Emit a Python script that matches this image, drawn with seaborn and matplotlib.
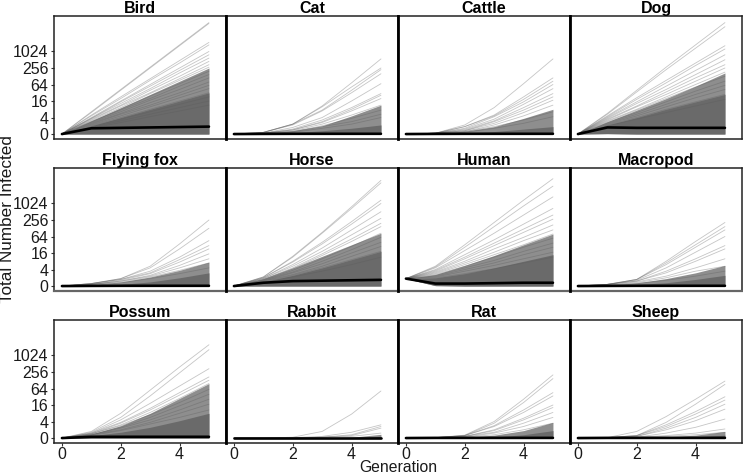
import pandas as pd
import matplotlib
matplotlib.use('Agg')
import matplotlib.pyplot as plt
import seaborn as sns

sns.set_theme(style='white')
plt.rcParams['font.family'] = ['Liberation Sans', 'DejaVu Sans']

# values are log2(total number infected)
generations = [0, 1, 2, 3, 4, 5]
animals = ['Bird', 'Cat', 'Cattle', 'Dog', 'Flying fox', 'Horse',
           'Human', 'Macropod', 'Possum', 'Rabbit', 'Rat', 'Sheep']
y_ticks = [0, 2, 4, 6, 8, 10]
y_labels = ['0', '4', '16', '64', '256', '1024']
x_ticks = [0, 2, 4]

bird_runs = [
    [0, 2.7, 5.4, 8.1, 10.8, 13.5], [0, 2.6, 5.3, 8.0, 10.7, 13.4], [0, 2.3, 4.5, 6.7, 8.9, 11.1],
    [0, 2.2, 4.3, 6.5, 8.6, 10.8], [0, 2.0, 4.0, 6.0, 8.0, 10.0], [0, 1.9, 3.9, 5.8, 7.7, 9.6],
    [0, 1.9, 3.7, 5.5, 7.4, 9.2], [0, 1.8, 3.5, 5.3, 7.0, 8.8], [0, 1.7, 3.4, 5.0, 6.7, 8.4],
    [0, 1.6, 3.2, 4.9, 6.5, 8.1], [0, 1.5, 3.0, 4.6, 6.1, 7.6], [0, 1.5, 2.9, 4.3, 5.8, 7.2],
    [0, 1.4, 2.7, 4.1, 5.4, 6.8], [0, 1.3, 2.5, 3.8, 5.0, 6.3], [0, 1.2, 2.4, 3.5, 4.7, 5.9],
    [0, 1.1, 2.2, 3.3, 4.4, 5.5], [0, 1.0, 2.0, 3.0, 4.0, 5.0], [0, 0.9, 1.8, 2.7, 3.6, 4.5],
    [0, 0.8, 1.6, 2.4, 3.2, 4.0], [0, 0.7, 1.4, 2.1, 2.8, 3.5],
]
cat_runs = [
    [0, 0.2, 1.2, 3.4, 6.2, 9.1], [0, 0.2, 1.2, 3.3, 5.7, 8.0], [0, 0.2, 1.2, 2.9, 5.3, 7.8],
    [0, 0.2, 1.1, 2.8, 5.0, 7.3], [0, 0.1, 0.8, 2.0, 4.0, 6.1], [0, 0.1, 0.6, 1.7, 3.2, 4.9],
    [0, 0.1, 0.5, 1.5, 3.0, 4.7], [0, 0.1, 0.5, 1.4, 2.8, 4.3], [0, 0.1, 0.4, 1.2, 2.3, 3.5],
    [0, 0.1, 0.3, 1.0, 1.9, 2.9], [0, 0.1, 0.3, 0.9, 1.5, 2.4], [0, 0.1, 0.2, 0.7, 1.2, 2.0],
]
cattle_runs = [
    [0, 0.1, 1.1, 3.2, 6.1, 9.1], [0, 0.1, 0.9, 2.3, 4.5, 6.8], [0, 0.1, 0.9, 2.2, 4.2, 6.4],
    [0, 0.1, 0.7, 2.1, 3.9, 6.0], [0, 0.1, 0.6, 1.8, 3.6, 5.5], [0, 0.1, 0.5, 1.6, 3.2, 4.9],
    [0, 0.1, 0.4, 1.5, 2.9, 4.5], [0, 0.1, 0.4, 1.3, 2.6, 4.1], [0, 0.1, 0.3, 1.1, 2.2, 3.5],
    [0, 0.1, 0.3, 0.9, 1.7, 2.7], [0, 0.1, 0.2, 0.7, 1.3, 2.1],
]
dog_runs = [
    [0, 2.5, 5.3, 8.1, 10.8, 13.5], [0, 2.4, 5.1, 7.8, 10.4, 13.0], [0, 2.2, 4.4, 6.5, 8.6, 10.7],
    [0, 2.1, 4.2, 6.2, 8.3, 10.3], [0, 2.0, 3.9, 5.8, 7.7, 9.6], [0, 1.9, 3.7, 5.4, 7.2, 9.0],
    [0, 1.8, 3.4, 5.1, 6.8, 8.4], [0, 1.7, 3.3, 4.8, 6.4, 8.0], [0, 1.6, 3.0, 4.5, 6.0, 7.5],
    [0, 1.5, 2.9, 4.3, 5.7, 7.0], [0, 1.4, 2.6, 3.9, 5.2, 6.4], [0, 1.3, 2.4, 3.6, 4.8, 5.9],
    [0, 1.2, 2.2, 3.3, 4.4, 5.4], [0, 1.1, 2.0, 3.0, 3.9, 4.8], [0, 1.0, 1.8, 2.6, 3.4, 4.2],
]
flying_fox_runs = [
    [0, 0.3, 0.9, 2.4, 5.1, 8.0], [0, 0.3, 0.9, 2.2, 4.5, 7.0], [0, 0.3, 0.8, 1.8, 3.5, 5.5],
    [0, 0.3, 0.8, 1.6, 3.2, 4.9], [0, 0.2, 0.7, 1.5, 2.9, 4.5], [0, 0.2, 0.6, 1.3, 2.5, 3.9],
    [0, 0.2, 0.6, 1.2, 2.2, 3.3], [0, 0.2, 0.5, 1.1, 1.9, 2.8], [0, 0.2, 0.4, 0.9, 1.5, 2.2],
]
horse_runs = [
    [0, 1.1, 3.6, 6.5, 9.6, 12.8], [0, 1.1, 3.5, 6.4, 9.4, 12.5], [0, 1.0, 3.0, 5.3, 7.8, 10.4],
    [0, 1.0, 2.9, 5.1, 7.5, 10.0], [0, 0.9, 2.6, 4.6, 6.8, 9.0], [0, 0.9, 2.4, 4.2, 6.2, 8.2],
    [0, 0.8, 2.2, 3.9, 5.7, 7.6], [0, 0.8, 2.1, 3.7, 5.4, 7.2], [0, 0.7, 1.9, 3.3, 4.8, 6.4],
    [0, 0.7, 1.7, 3.0, 4.4, 5.9], [0, 0.6, 1.6, 2.7, 4.0, 5.3], [0, 0.6, 1.4, 2.4, 3.6, 4.8],
    [0, 0.5, 1.3, 2.2, 3.2, 4.2], [0, 0.5, 1.1, 1.8, 2.6, 3.5],
]
human_runs = [
    [0.9, 2.4, 5.0, 7.7, 10.4, 13.0], [0.9, 2.3, 4.7, 7.2, 9.7, 12.1], [0.9, 2.2, 4.3, 6.4, 8.6, 10.8],
    [0.9, 2.0, 3.8, 5.6, 7.5, 9.4], [0.9, 1.9, 3.5, 5.2, 6.9, 8.6], [0.9, 1.8, 3.3, 4.9, 6.5, 8.1],
    [0.9, 1.7, 3.0, 4.5, 5.9, 7.4], [0.9, 1.6, 2.8, 4.1, 5.5, 6.8], [0.9, 1.5, 2.6, 3.8, 5.0, 6.3],
    [0.9, 1.4, 2.4, 3.5, 4.7, 5.8], [0.9, 1.3, 2.2, 3.1, 4.2, 5.2], [0.9, 1.2, 2.0, 2.8, 3.8, 4.7],
    [0.9, 1.1, 1.8, 2.5, 3.3, 4.1], [0.9, 1.0, 1.5, 2.1, 2.8, 3.5],
]
macropod_runs = [
    [0, 0.2, 0.8, 3.0, 5.4, 7.7], [0, 0.2, 0.8, 2.8, 5.0, 7.2], [0, 0.2, 0.8, 2.6, 4.7, 6.8],
    [0, 0.2, 0.7, 2.2, 4.1, 6.0], [0, 0.2, 0.6, 1.8, 3.3, 4.9], [0, 0.2, 0.6, 1.6, 3.0, 4.5],
    [0, 0.1, 0.5, 1.2, 2.2, 3.3], [0, 0.1, 0.4, 1.0, 1.8, 2.4], [0, 0.1, 0.3, 0.7, 1.2, 1.8],
]
possum_runs = [
    [0, 0.8, 3.0, 5.8, 8.6, 11.3], [0, 0.7, 2.5, 5.1, 7.9, 10.7], [0, 0.6, 2.2, 4.2, 6.3, 8.4],
    [0, 0.6, 1.9, 3.6, 5.5, 7.4], [0, 0.5, 1.8, 3.4, 5.2, 7.0], [0, 0.5, 1.6, 3.1, 4.8, 6.6],
    [0, 0.5, 1.5, 2.8, 4.3, 5.9], [0, 0.4, 1.3, 2.5, 3.9, 5.3], [0, 0.4, 1.2, 2.2, 3.4, 4.7],
    [0, 0.4, 1.0, 1.9, 3.0, 4.1], [0, 0.3, 0.9, 1.7, 2.5, 3.4],
]
rabbit_runs = [
    [0, 0, 0.1, 0.8, 2.9, 5.7], [0, 0, 0.05, 0.2, 0.7, 1.6], [0, 0, 0.05, 0.1, 0.4, 1.4],
    [0, 0, 0, 0.1, 0.3, 1.2], [0, 0, 0, 0.1, 0.2, 0.6],
]
rat_runs = [
    [0, 0.05, 0.35, 2.0, 4.7, 7.65], [0, 0.05, 0.3, 1.8, 4.3, 7.2], [0, 0.05, 0.3, 1.5, 3.4, 5.5],
    [0, 0.05, 0.3, 1.4, 3.1, 5.1], [0, 0.05, 0.2, 1.0, 2.4, 4.0], [0, 0.05, 0.2, 0.9, 2.2, 3.7],
    [0, 0.05, 0.2, 0.7, 1.8, 3.1], [0, 0.05, 0.1, 0.6, 1.4, 2.5], [0, 0.05, 0.1, 0.4, 1.0, 1.8],
]
sheep_runs = [
    [0, 0.05, 0.8, 2.6, 4.7, 6.9], [0, 0.05, 0.3, 1.9, 4.1, 6.5], [0, 0.05, 0.3, 1.6, 3.2, 5.0],
    [0, 0.05, 0.3, 1.4, 2.9, 4.6], [0, 0.05, 0.2, 1.2, 2.5, 4.1], [0, 0.05, 0.2, 1.0, 2.1, 3.5],
    [0, 0.05, 0.1, 0.6, 1.3, 2.3], [0, 0.05, 0.1, 0.3, 0.6, 1.1], [0, 0.05, 0.05, 0.2, 0.4, 0.7],
]
all_runs = [bird_runs, cat_runs, cattle_runs, dog_runs, flying_fox_runs, horse_runs,
            human_runs, macropod_runs, possum_runs, rabbit_runs, rat_runs, sheep_runs]

# mean run of each host, the thick black line
mean_runs = [
    [0, 0.7, 0.75, 0.8, 0.85, 0.9], [0, 0.02, 0.03, 0.03, 0.03, 0.03], [0, 0.02, 0.03, 0.03, 0.03, 0.03],
    [0, 0.8, 0.75, 0.75, 0.75, 0.75], [0, 0.02, 0.03, 0.03, 0.03, 0.03], [0, 0.4, 0.6, 0.65, 0.7, 0.75],
    [0.9, 0.3, 0.3, 0.35, 0.4, 0.4], [0, 0.02, 0.03, 0.03, 0.03, 0.03], [0, 0.15, 0.15, 0.15, 0.15, 0.15],
    [0, 0, 0, 0, 0, 0], [0, 0.02, 0.02, 0.02, 0.02, 0.02], [0, 0.02, 0.02, 0.02, 0.02, 0.02],
]

# upper edge of the lighter haze of runs and of the solid grey core under it
haze_tops = [
    [0, 1.6, 3.2, 4.8, 6.4, 8.0], [0, 0.1, 0.4, 1.0, 2.2, 3.5], [0, 0.1, 0.35, 0.9, 1.9, 3.0],
    [0, 1.5, 2.9, 4.3, 5.8, 7.4], [0, 0.2, 0.5, 1.1, 1.9, 2.9], [0, 0.9, 2.2, 3.6, 5.0, 6.4],
    [0.9, 1.4, 2.5, 3.7, 5.0, 6.3], [0, 0.1, 0.4, 0.9, 1.6, 2.5], [0, 0.5, 1.5, 3.0, 4.8, 6.6],
    [0, 0, 0, 0.03, 0.1, 0.45], [0, 0.03, 0.1, 0.35, 0.9, 1.9], [0, 0.02, 0.05, 0.15, 0.35, 0.8],
]
core_tops = [
    [0, 1.0, 2.0, 3.0, 4.0, 5.0], [0, 0.05, 0.15, 0.4, 0.7, 1.1], [0, 0.05, 0.12, 0.3, 0.6, 0.9],
    [0, 1.1, 2.0, 3.0, 3.9, 4.8], [0, 0.08, 0.2, 0.5, 1.0, 1.6], [0, 0.5, 1.3, 2.2, 3.2, 4.2],
    [0.9, 1.0, 1.5, 2.2, 3.0, 3.8], [0, 0.05, 0.2, 0.4, 0.8, 1.3], [0, 0.3, 0.7, 1.3, 2.1, 3.0],
    [0, 0, 0, 0.01, 0.04, 0.2], [0, 0.02, 0.05, 0.12, 0.4, 0.9], [0, 0.01, 0.03, 0.08, 0.15, 0.35],
]
band_bottoms = [
    [0, 0, 0, 0, 0, 0], [0, 0, 0, 0, 0, 0], [0, 0, 0, 0, 0, 0],
    [0, 0.05, 0, 0, 0, 0], [0, 0, 0, 0, 0, 0], [0, 0, 0, 0, 0, 0],
    [0.9, 0.05, 0, 0, 0, 0], [0, 0, 0, 0, 0, 0], [0, 0, 0, 0, 0, 0],
    [0, 0, 0, 0, 0, 0], [0, 0, 0, 0, 0, 0], [0, 0, 0, 0, 0, 0],
]

# long table for seaborn
rows = []
for animal, runs in zip(animals, all_runs):
    for run_id, run in enumerate(runs):
        for gen, val in zip(generations, run):
            rows.append({'host': animal, 'run': run_id, 'generation': gen, 'log2_infected': val})
df = pd.DataFrame(rows)

g = sns.FacetGrid(df, col='host', col_order=animals, col_wrap=4, sharex=True, sharey=True,
                  despine=False, height=1.5, aspect=1.0)
g.map_dataframe(sns.lineplot, x='generation', y='log2_infected', units='run', estimator=None,
                color='#5a5a5a', alpha=0.35, linewidth=0.6, zorder=3)

for i, ax in enumerate(g.axes.flat):
    col, row = i % 4, i // 4
    ax.fill_between(generations, band_bottoms[i], haze_tops[i], color='#8e8e8e', linewidth=0, zorder=1)
    ax.fill_between(generations, band_bottoms[i], core_tops[i], color='#6a6a6a', linewidth=0, zorder=2)
    sns.lineplot(x=generations, y=mean_runs[i], color='black', linewidth=1.9, ax=ax, zorder=4)
    ax.set_xlim(-0.27, 5.58)
    ax.set_ylim(-0.6, 14.3)
    ax.set_xticks(x_ticks)
    ax.set_yticks(y_ticks)
    ax.set_yticklabels(y_labels)
    ax.tick_params(axis='y', labelsize=11.5, length=2.5, width=0.8, color='#333333',
                   labelcolor='#1a1a1a', pad=1.5, left=col == 0, labelleft=col == 0)
    ax.tick_params(axis='x', labelsize=11.5, length=2.5, width=0.8, color='#333333',
                   labelcolor='#1a1a1a', pad=0.5, bottom=row == 2, labelbottom=row == 2)
    for spine in ax.spines.values():
        spine.set_color('#222222')
        spine.set_linewidth(1.1)
    if col > 0:
        ax.spines['left'].set_color('black')
        ax.spines['left'].set_linewidth(2.0)
        ax.spines['left'].set_zorder(6)
    if row == 1:
        ax.spines['bottom'].set_color('#666666')
        ax.spines['bottom'].set_linewidth(1.6)

g.set_titles('{col_name}', fontweight='bold', size=11.5, color='black', pad=2.5)
g.set_axis_labels('', '')
g.figure.set_size_inches(7.43, 4.75)
g.figure.subplots_adjust(left=54 / 743, right=742 / 743, top=1 - 16 / 475, bottom=1 - 443 / 475,
                         wspace=0, hspace=29 / 123)
g.figure.text(398 / 743, 1 - 467.5 / 475, 'Generation', ha='center', va='center', fontsize=11.3, color='#1a1a1a')
g.figure.text(7.5 / 743, 1 - 219 / 475, 'Total Number Infected', rotation=90, ha='center', va='center',
              fontsize=12.3, color='#1a1a1a')

g.figure.savefig('out.png', dpi=100)
